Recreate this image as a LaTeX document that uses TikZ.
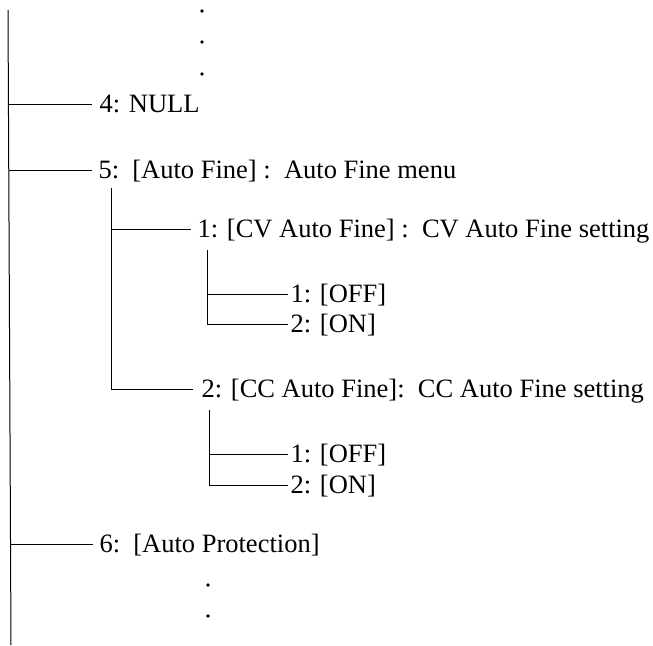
\documentclass[tikz,border=0pt]{standalone}
\usepackage{fontspec}
\setmainfont{Liberation Serif}
\usetikzlibrary{positioning}

\begin{document}
\begin{tikzpicture}[x=1pt, y=-1pt, line width=1pt,
  font=\fontsize{26.5}{31}\selectfont,
  item/.style={inner ysep=0pt, inner xsep=6pt, text height=17.5pt, text depth=0pt, anchor=west},
  leaf/.style={item, inner xsep=2pt}]
  \useasboundingbox (0,0) rectangle (653,645);

  % main trunk
  \coordinate (t0) at (8,10);
  \coordinate (t1) at (11,645);
  \draw (t0) -- (t1);
  \foreach \y in {11,42,74} \fill (202,\y) circle (1.9);

  % top level entries
  \node[item, inner xsep=7pt] (n4) at (92,104) {4: NULL};
  \node[item] (n5) at (92,170) {5:\ \ [Auto Fine] :\ \ Auto Fine menu};
  \node[item] (n6) at (93,544) {6:\ \ [Auto Protection]};
  \coordinate (b4) at (8.4,104);
  \coordinate (b5) at (8.8,170);
  \coordinate (b6) at (10.5,544);
  \draw (b4) -- (n4.west);
  \draw (b5) -- (n5.west);
  \draw (b6) -- (n6.west);
  \foreach \y in {585,616} \fill (208,\y) circle (1.9);

  % auto fine submenu
  \node[item, inner xsep=6pt] (c1) at (191,229) {1: [CV Auto Fine] :\ \ CV Auto Fine setting};
  \node[item, inner xsep=8pt] (c2) at (193,389) {2: [CC Auto Fine]:\ \ CC Auto Fine setting};
  \coordinate (s0) at (111,188);
  \coordinate (s1) at (111,229);
  \draw (s0) |- (c2.west);
  \draw (s1) -- (c1.west);

  % CV options
  \node[leaf] (a1) at (288,294) {1: [OFF]};
  \node[leaf] (a2) at (288,324) {2: [ON]};
  \coordinate (p0) at (207,250);
  \coordinate (p1) at (207,294);
  \draw (p0) |- (a2.west);
  \draw (p1) -- (a1.west);

  % CC options
  \node[leaf] (d1) at (288,454) {1: [OFF]};
  \node[leaf] (d2) at (288,485) {2: [ON]};
  \coordinate (q0) at (209,410);
  \coordinate (q1) at (209,454);
  \draw (q0) |- (d2.west);
  \draw (q1) -- (d1.west);
\end{tikzpicture}
\end{document}
